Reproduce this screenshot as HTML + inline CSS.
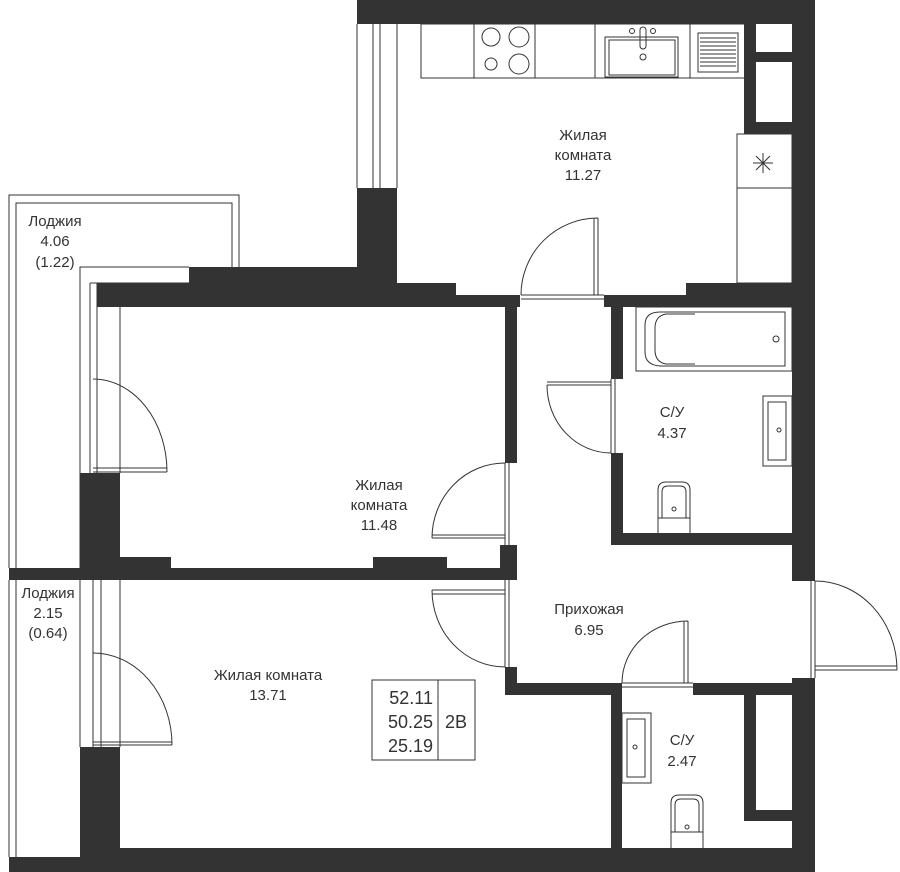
<!DOCTYPE html>
<html><head><meta charset="utf-8"><style>
html,body{margin:0;padding:0;background:#fff;}
svg{display:block;}
text{font-family:"Liberation Sans",sans-serif;fill:#333;text-anchor:middle;}
</style></head><body>
<svg width="900" height="872" viewBox="0 0 900 872" xmlns="http://www.w3.org/2000/svg">
<g fill="none" stroke="#333" stroke-width="1">
<!-- upper loggia -->
<path d="M9,568 V195 H239 V267 M16,568 V203 H232 V267"/>
<path d="M80,568 V267 H189"/>
<!-- lower loggia -->
<path d="M9,580 V857 M16,580 V857 M80,580 V747"/>
<!-- window frames left -->
<path d="M90,283 V473 M97,283 V473 M120,307 V473 M90,283 H189"/>
<path d="M93,580 V747 M101,580 V747 M120,580 V747"/>
<!-- kitchen window -->
<path d="M357,24 V188 M373,24 V188 M380,24 V188 M397,24 V188"/>
</g>
<g fill="#333">
<!-- top wall -->
<rect x="357" y="0" width="458" height="24"/>
<rect x="357" y="188" width="40" height="95"/>
<rect x="189" y="267" width="208" height="28"/>
<rect x="97" y="283" width="359" height="24"/>
<rect x="97" y="295" width="423" height="12"/>
<rect x="604" y="295" width="211" height="12"/>
<rect x="686" y="283" width="129" height="24"/>
<!-- right side shafts -->
<rect x="744" y="24" width="12" height="110"/>
<rect x="756" y="52" width="36" height="10"/>
<rect x="756" y="122" width="36" height="12"/>
<rect x="792" y="24" width="23" height="557"/>
<rect x="792" y="678" width="23" height="194"/>
<!-- bathroom walls -->
<rect x="611" y="295" width="12" height="84"/>
<rect x="611" y="453" width="12" height="92"/>
<rect x="611" y="533" width="204" height="12"/>
<!-- hall left wall -->
<rect x="505" y="307" width="12" height="156"/>
<rect x="500" y="545" width="17" height="35"/>
<rect x="505" y="667" width="12" height="28"/>
<!-- middle wall -->
<rect x="9" y="568" width="507" height="12"/>
<rect x="80" y="557" width="91" height="12"/>
<rect x="373" y="557" width="74" height="12"/>
<rect x="80" y="473" width="40" height="95"/>
<!-- hall bottom -->
<rect x="505" y="683" width="117" height="12"/>
<rect x="693" y="683" width="122" height="12"/>
<rect x="611" y="683" width="11" height="170"/>
<rect x="744" y="695" width="12" height="126"/>
<rect x="744" y="810" width="48" height="11"/>
<!-- lower left -->
<rect x="80" y="747" width="40" height="110"/>
<rect x="80" y="848" width="735" height="24"/>
<rect x="9" y="857" width="71" height="15"/>
</g>
<g fill="none" stroke="#333" stroke-width="1">
<!-- kitchen counter -->
<rect x="421" y="24" width="324" height="54"/>
<path d="M474,24 V78 M535,24 V78 M595,24 V78 M690,24 V78"/>
<circle cx="491" cy="37" r="9"/><circle cx="519" cy="37" r="10"/>
<circle cx="491" cy="64" r="6"/><circle cx="519" cy="64" r="10"/>
<rect x="605" y="37" width="73" height="40"/><rect x="609" y="40" width="66" height="35"/>
<circle cx="632" cy="31" r="2.5"/><circle cx="653" cy="31" r="2.5"/><circle cx="643" cy="57" r="3"/>
<rect x="640" y="27" width="6" height="22" rx="3"/>
<rect x="698" y="33" width="40" height="39"/>
<path d="M700,38 H736 M700,42 H736 M700,46 H736 M700,50 H736 M700,54 H736 M700,58 H736 M700,62 H736 M700,66 H736"/>
<rect x="737" y="134" width="55" height="54"/>
<rect x="737" y="188" width="55" height="95"/>
<path d="M763,153 V173 M753,163 H773 M756,156 L770,170 M770,156 L756,170"/>
<!-- doors -->
<path d="M521,295 A77,77 0 0 1 598,218 M598,218 V295 M594,218 V295 M521,295 H604 M521,299 H604"/>
<path d="M93,379 A74,93 0 0 1 167,472 M93,472 H167 M93,468 H167"/>
<path d="M432,538 A73,75 0 0 1 505,463 M432,538 H505 M432,535 H505 M505,463 V545 M509,463 V545"/>
<path d="M432,590 A73,77 0 0 0 505,667 M432,590 H505 M432,594 H505 M505,580 V667 M509,580 V667"/>
<path d="M93,653 A79,92 0 0 1 172,745 M93,745 H172 M93,742 H172"/>
<path d="M547,385 A64,68 0 0 0 611,453 M547,385 H611 M547,382 H611 M611,379 V453 M615,379 V453"/>
<path d="M622,683 A66,62 0 0 1 688,621 M688,621 V683 M684,621 V683 M622,683 H693 M622,687 H693"/>
<path d="M815,581 A82,89 0 0 1 897,670 M815,670 H897 M815,666 H897 M811,581 V678 M815,581 V678"/>
<!-- bath -->
<rect x="636" y="307" width="156" height="64"/>
<path d="M785,312 H660 Q645,312 645,325 V352 Q645,365 660,366 H785 Z"/>
<path d="M695,314 H666 Q655,316 655,328 V350 Q655,362 666,364 H695"/>
<circle cx="776" cy="339" r="3"/>
<!-- sinks -->
<rect x="763" y="396" width="29" height="70"/><rect x="768" y="402" width="18" height="58"/>
<circle cx="779" cy="430" r="2"/>
<rect x="622" y="713" width="29" height="70"/><rect x="627" y="719" width="18" height="58"/>
<circle cx="635" cy="747" r="2"/>
<!-- toilets -->
<path d="M658,533 V490 Q658,482 666,482 H682 Q690,482 690,490 V533 M658,518 H690 M662,518 V492 Q662,486 668,486 H680 Q686,486 686,492 V518"/>
<circle cx="674" cy="509" r="2"/>
<path d="M671,848 V803 Q671,795 679,795 H695 Q703,795 703,803 V848 M671,832 H703 M675,832 V805 Q675,799 681,799 H693 Q699,799 699,805 V832"/>
<circle cx="687" cy="827" r="2"/>
<!-- info box -->
<rect x="372" y="680" width="103" height="80"/>
<path d="M438,680 V760"/>
</g>
<g font-size="15">
<text x="583" y="140">Жилая</text><text x="583" y="160">комната</text><text x="583" y="180">11.27</text>
<text x="55" y="226">Лоджия</text><text x="55" y="246">4.06</text><text x="55" y="267">(1.22)</text>
<text x="379" y="490">Жилая</text><text x="379" y="510">комната</text><text x="379" y="530">11.48</text>
<text x="48" y="598">Лоджия</text><text x="48" y="618">2.15</text><text x="48" y="638">(0.64)</text>
<text x="268" y="680">Жилая комната</text><text x="268" y="700">13.71</text>
<text x="672" y="417">С/У</text><text x="672" y="438">4.37</text>
<text x="589" y="614">Прихожая</text><text x="589" y="635">6.95</text>
<text x="682" y="745">С/У</text><text x="682" y="766">2.47</text>
</g>
<g font-size="18">
<text x="433" y="704" text-anchor="end" style="text-anchor:end">52.11</text>
<text x="433" y="728" style="text-anchor:end">50.25</text>
<text x="433" y="752" style="text-anchor:end">25.19</text>
<text x="456" y="728">2В</text>
</g>
</svg>
</body></html>
